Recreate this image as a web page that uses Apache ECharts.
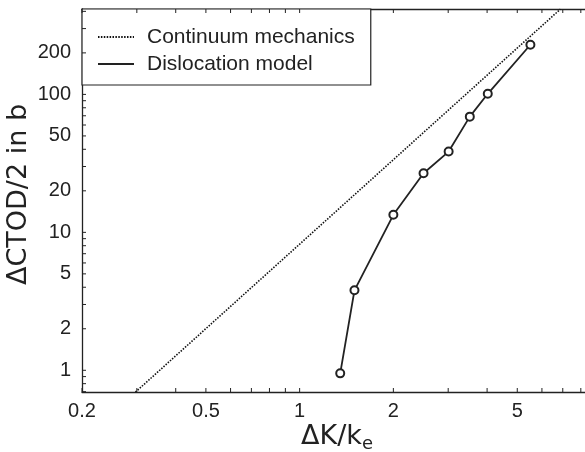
<!DOCTYPE html>
<html><head><meta charset="utf-8">
<script src="https://cdn.jsdelivr.net/npm/echarts@6/dist/echarts.min.js"></script>
<style>html,body{margin:0;padding:0;background:#fff}#c{width:585px;height:452px}</style>
</head><body><div id="c"></div>
<script>
// ---- data ----
const continuumK = [0.297, 6.88];
const continuumCTOD = [0.695, 415];
const dislocationK = [1.35, 1.50, 2.00, 2.50, 3.01, 3.52, 4.02, 5.51];
const dislocationCTOD = [0.95, 3.8, 13.4, 26.8, 38.5, 69, 101, 229];
const xTickValues = [0.2, 0.5, 1, 2, 5];
const xTickLabels = ['0.2', '0.5', '1', '2', '5'];
const xMinorTicks = [0.3, 0.4, 0.6, 0.7, 0.8, 0.9, 3, 4, 6, 7, 8, 9];
const yTickValues = [1, 2, 5, 10, 20, 50, 100, 200];
const yTickLabels = ['1', '2', '5', '10', '20', '50', '100', '200'];
const yMinorTicks = [0.7, 0.8, 0.9, 3, 4, 6, 7, 8, 9, 30, 40, 60, 70, 80, 90, 300, 400];

const X_MIN = 0.2, X_MAX = 10, Y_MIN = 0.696, Y_MAX = 416;
const INK = '#222';
const FONT = 'Liberation Sans, Arial, Helvetica, sans-serif';
const TITLE_FONT = 'DejaVu Sans, Liberation Sans, sans-serif';

const xTicksAll = xTickValues.concat(xMinorTicks);
const xLabelsAll = xTickLabels.concat(xMinorTicks.map(() => ''));
const yTicksAll = yTickValues.concat(yMinorTicks);
const yLabelsAll = yTickLabels.concat(yMinorTicks.map(() => ''));

const chart = echarts.init(document.getElementById('c'), null, {renderer: 'canvas'});

function xTickRender(params, api) {
  const v = api.value(0);
  const pb = api.coord([v, Y_MIN]);
  const pt = api.coord([v, Y_MAX]);
  const L = 4;
  const ch = [
    {type: 'line', shape: {x1: pb[0], y1: pb[1], x2: pb[0], y2: pb[1] - L}, style: {stroke: INK, lineWidth: 1}},
    {type: 'line', shape: {x1: pt[0], y1: pt[1], x2: pt[0], y2: pt[1] + L}, style: {stroke: INK, lineWidth: 1}}
  ];
  const lab = xLabelsAll[params.dataIndex];
  if (lab) ch.push({type: 'text', style: {text: lab, x: pb[0], y: pb[1] + 19, align: 'center', verticalAlign: 'middle',
    fontSize: 20, fontFamily: FONT, fill: INK}});
  return {type: 'group', children: ch};
}
function yTickRender(params, api) {
  const v = api.value(1);
  const pl = api.coord([X_MIN, v]);
  const L = 4;
  const ch = [
    {type: 'line', shape: {x1: pl[0], y1: pl[1], x2: pl[0] + L, y2: pl[1]}, style: {stroke: INK, lineWidth: 1}}
  ];
  const lab = yLabelsAll[params.dataIndex];
  if (lab) ch.push({type: 'text', style: {text: lab, x: pl[0] - 11, y: pl[1], align: 'right', verticalAlign: 'middle',
    fontSize: 20, fontFamily: FONT, fill: INK}});
  return {type: 'group', children: ch};
}

const axisCommon = {
  axisTick: {show: false}, axisLabel: {show: false}, splitLine: {show: false},
  axisLine: {show: true, lineStyle: {color: INK, width: 1.3}}
};

chart.setOption({
  animation: false,
  backgroundColor: '#fff',
  grid: {left: 82, top: 9, width: 529, height: 383, outerBoundsMode: 'none'},
  xAxis: [
    Object.assign({type: 'log', logBase: 10, min: X_MIN, max: X_MAX, position: 'bottom',
      name: '{a|ΔK/k}{b|e}', nameLocation: 'middle', nameGap: 29,
      nameTextStyle: {padding: [0, 19, 0, 0], rich: {
        a: {fontSize: 27, fontFamily: TITLE_FONT, color: INK, lineHeight: 32},
        b: {fontSize: 18, fontFamily: TITLE_FONT, color: INK, lineHeight: 16, verticalAlign: 'bottom'}
      }}}, axisCommon),
    Object.assign({type: 'log', logBase: 10, min: X_MIN, max: X_MAX, position: 'top'}, axisCommon)
  ],
  yAxis: [
    Object.assign({type: 'log', logBase: 10, min: Y_MIN, max: Y_MAX,
      name: 'ΔCTOD/2 in b', nameLocation: 'middle', nameRotate: 90, nameGap: 50,
      nameTextStyle: {fontSize: 27, fontFamily: TITLE_FONT, color: INK, padding: [0, 0, 0, 12]}}, axisCommon)
  ],
  legend: {
    left: 82, top: 9, orient: 'vertical', selectedMode: false,
    data: [
      {name: 'Continuum mechanics', itemStyle: {opacity: 0}},
      {name: 'Dislocation model', itemStyle: {opacity: 0}}
    ],
    itemWidth: 36, itemHeight: 14, itemGap: 5,
    padding: [17, 16, 10, 15],
    backgroundColor: '#fff', borderColor: INK, borderWidth: 1.2, borderRadius: 0,
    textStyle: {fontSize: 21, fontFamily: FONT, color: INK, lineHeight: 22, padding: [0, 0, 0, 8]}
  },
  series: [
    {
      name: 'Continuum mechanics', type: 'line', xAxisIndex: 0, yAxisIndex: 0,
      data: continuumK.map((k, i) => [k, continuumCTOD[i]]),
      symbol: 'none', lineStyle: {color: '#111', width: 1.6, type: [1.5, 1.4]}, z: 2
    },
    {
      name: 'Dislocation model', type: 'line', xAxisIndex: 0, yAxisIndex: 0,
      data: dislocationK.map((k, i) => [k, dislocationCTOD[i]]),
      symbol: 'emptyCircle', symbolSize: 8, showSymbol: true,
      lineStyle: {color: INK, width: 1.8}, itemStyle: {color: INK, borderWidth: 1.4}, z: 3
    },
    {
      type: 'custom', name: 'xticks', xAxisIndex: 0, yAxisIndex: 0, clip: false, silent: true,
      data: xTicksAll.map(v => [v, Y_MIN]), renderItem: xTickRender, z: 5
    },
    {
      type: 'custom', name: 'yticks', xAxisIndex: 0, yAxisIndex: 0, clip: false, silent: true,
      data: yTicksAll.map(v => [X_MIN, v]), renderItem: yTickRender, z: 5
    }
  ]
});
</script>
</body></html>
